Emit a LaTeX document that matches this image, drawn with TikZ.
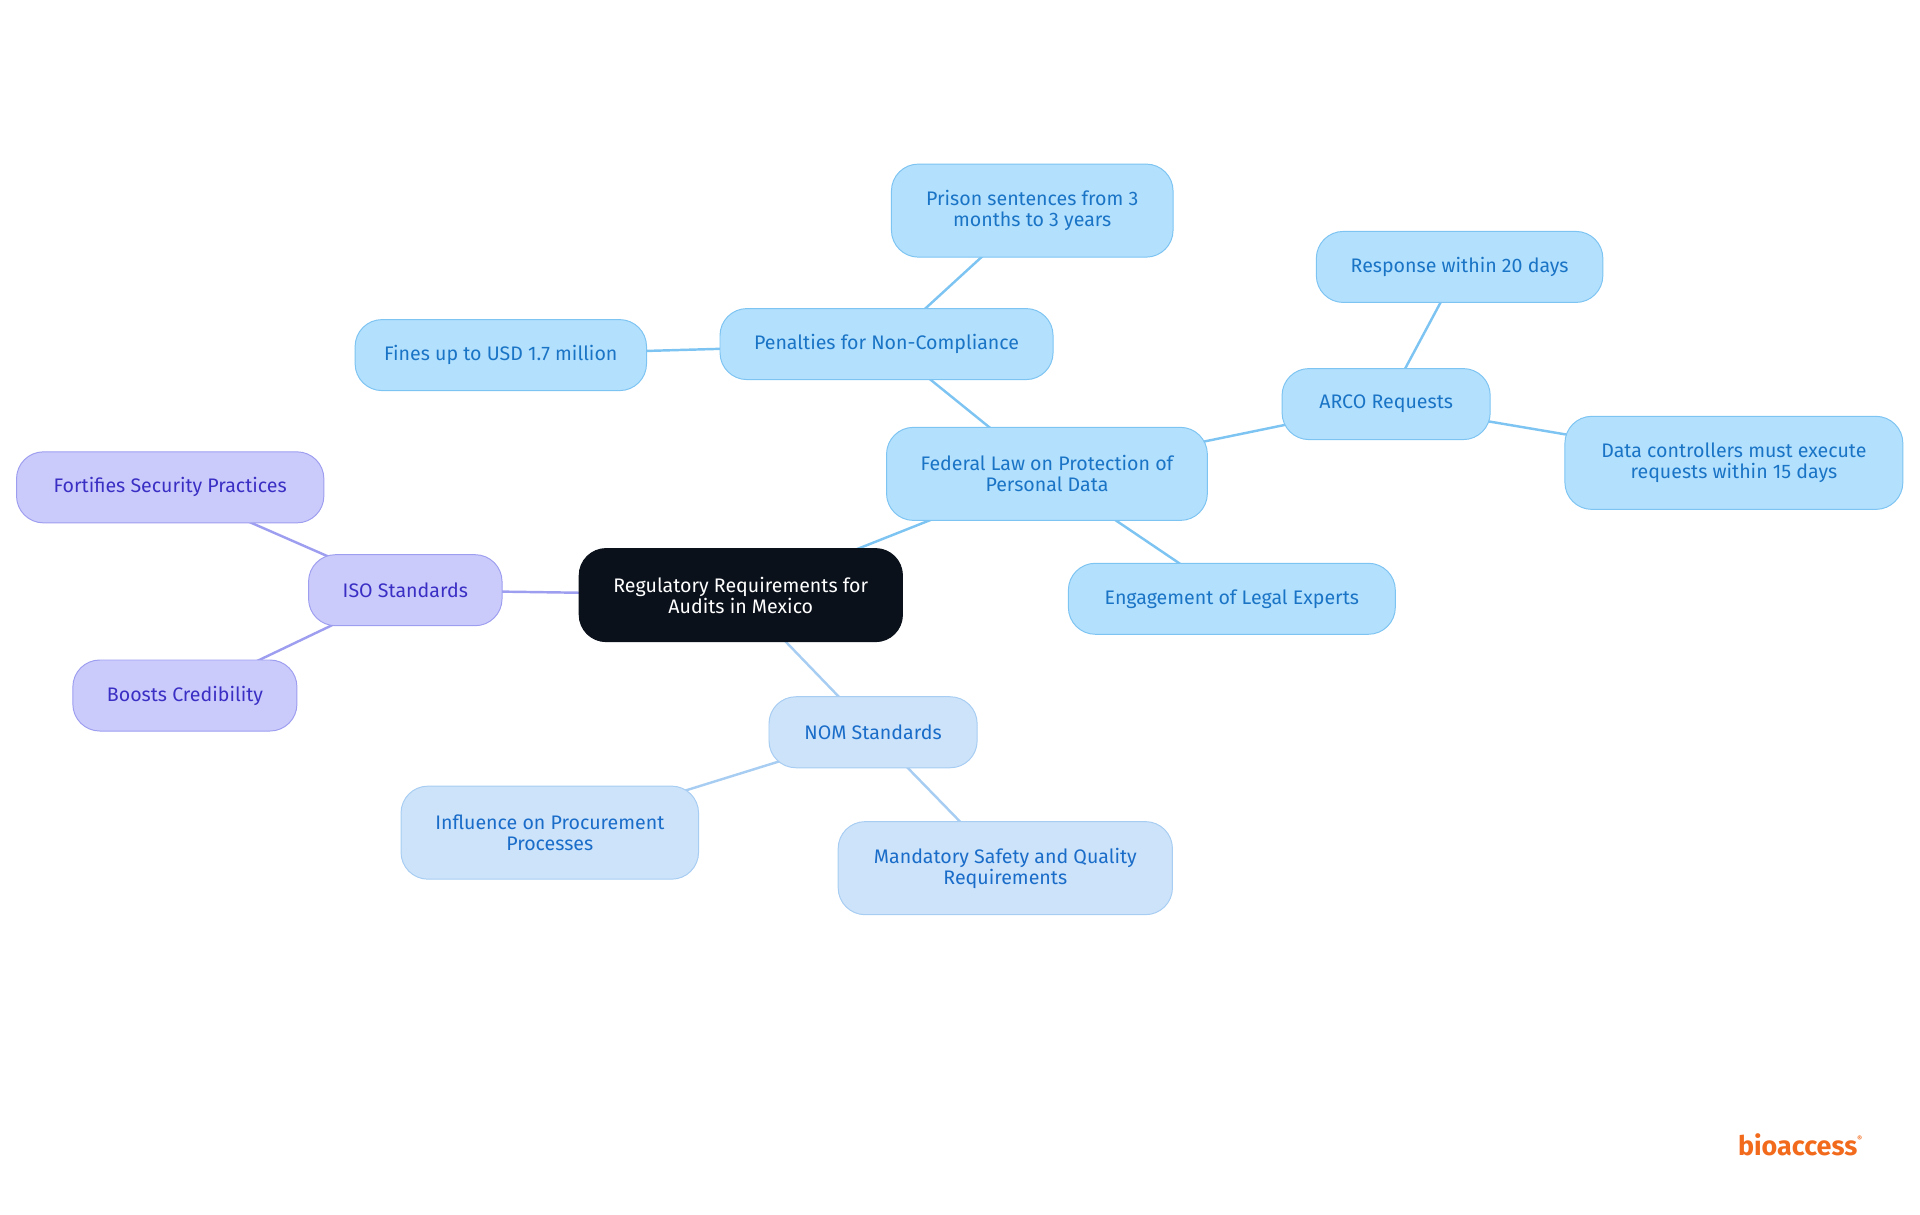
\documentclass[tikz,border=0pt]{standalone}
\usepackage{fontspec}
\setmainfont{Fira Sans}
\usetikzlibrary{backgrounds}
\definecolor{bfill}{HTML}{B3E0FD}\definecolor{bdraw}{HTML}{7DC4F2}\definecolor{btext}{HTML}{1A74C6}
\definecolor{pfill}{HTML}{CBCBFB}\definecolor{pdraw}{HTML}{9E9EF0}\definecolor{ptext}{HTML}{3A2FC4}
\definecolor{nfill}{HTML}{CCE3FA}\definecolor{ndraw}{HTML}{A8CDF2}\definecolor{ntext}{HTML}{1A6CC9}
\definecolor{root}{HTML}{0B111B}\definecolor{logo}{HTML}{F26B1D}
\tikzset{x=1pt,y=-1pt,
 base/.style={rounded corners=22pt,align=center,font=\fontsize{16}{17}\selectfont,inner sep=0pt,line width=0.8pt},
 bnode/.style={base,fill=bfill,draw=bdraw,text=btext},
 pnode/.style={base,fill=pfill,draw=pdraw,text=ptext},
 nnode/.style={base,fill=nfill,draw=ndraw,text=ntext},
 rnode/.style={base,fill=root,draw=root,text=white},
 bl/.style={draw=bdraw,line width=2pt},pl/.style={draw=pdraw,line width=2pt},nl/.style={draw=ndraw,line width=2pt}}
\begin{document}
\begin{tikzpicture}
\useasboundingbox (0,0) rectangle (1568,992);
\node[rnode,minimum width=264,minimum height=76] (r) at (605,486) {Regulatory Requirements for\\Audits in Mexico};
\node[bnode,minimum width=262,minimum height=76] (f) at (855,387) {Federal Law on Protection of\\Personal Data};
\node[bnode,minimum width=272,minimum height=58] (pen) at (724,281) {Penalties for Non-Compliance};
\node[bnode,minimum width=230,minimum height=76] (pri) at (843,172) {Prison sentences from 3\\months to 3 years};
\node[bnode,minimum width=238,minimum height=58] (fin) at (409,290) {Fines up to USD 1.7 million};
\node[bnode,minimum width=170,minimum height=58] (arco) at (1132,330) {ARCO Requests};
\node[bnode,minimum width=234,minimum height=58] (resp) at (1192,218) {Response within 20 days};
\node[bnode,minimum width=276,minimum height=76] (dc) at (1416,378) {Data controllers must execute\\requests within 15 days};
\node[bnode,minimum width=267,minimum height=58] (eng) at (1006,489) {Engagement of Legal Experts};
\node[pnode,minimum width=158,minimum height=58] (iso) at (331,482) {ISO Standards};
\node[pnode,minimum width=251,minimum height=58] (fort) at (139,398) {Fortifies Security Practices};
\node[pnode,minimum width=183,minimum height=58] (boo) at (151,568) {Boosts Credibility};
\node[nnode,minimum width=170,minimum height=58] (nom) at (713,598) {NOM Standards};
\node[nnode,minimum width=243,minimum height=76] (inf) at (449,680) {Influence on Procurement\\Processes};
\node[nnode,minimum width=273,minimum height=76] (man) at (821,709) {Mandatory Safety and Quality\\Requirements};
\begin{scope}[on background layer]
\draw[bl] (r.center)--(f.center); \draw[bl] (f.center)--(pen.center);
\draw[bl] (pen.center)--(pri.center); \draw[bl] (pen.center)--(fin.center);
\draw[bl] (f.center)--(arco.center); \draw[bl] (arco.center)--(resp.center);
\draw[bl] (arco.center)--(dc.center); \draw[bl] (f.center)--(eng.center);
\draw[pl] (r.center)--(iso.center); \draw[pl] (iso.center)--(fort.center); \draw[pl] (iso.center)--(boo.center);
\draw[nl] (r.center)--(nom.center); \draw[nl] (nom.center)--(inf.center); \draw[nl] (nom.center)--(man.center);
\end{scope}
\node[text=logo,font=\fontsize{22}{22}\selectfont\bfseries,inner sep=0pt] (lg) at (1470,935) {bioaccess\raisebox{1ex}{\fontsize{6}{6}\selectfont®}};
\end{tikzpicture}
\end{document}
